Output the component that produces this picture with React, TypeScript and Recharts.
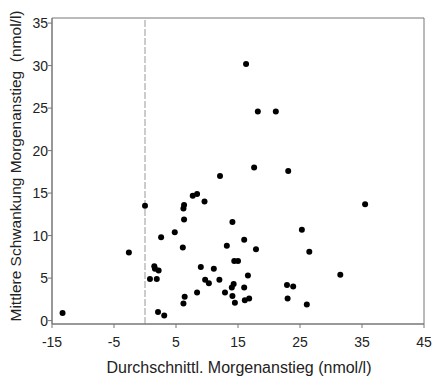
import React from 'react';
import { ScatterChart, Scatter, XAxis, YAxis, ReferenceLine, ReferenceArea, Label } from 'recharts';

// mean morning rise (x) vs. mean fluctuation of morning rise (y), nmol/l
const meanRise = [
  -13.3, -2.6, 0, 0.8, 1.9, 1.5, 1.6, 2.2, 2.1, 3.1, 2.6, 4.8, 6.1, 6.3,
  6.2, 6.3, 7.7, 8.4, 9.6, 12.1, 6.4, 6.2, 8.4, 9.0, 9.7, 10.3, 11.1, 12.0,
  12.9, 13.2, 14.1, 14.4, 15.0, 14.0, 14.3, 14.1, 14.5, 16.0, 16.6, 16.0, 16.1, 16.8,
  17.9, 17.6, 16.3, 18.2, 21.1, 23.1, 22.9, 23.9, 23.0, 25.3, 26.5, 26.1, 31.5, 35.5,
];
const fluctuation = [
  0.9, 8.0, 13.5, 4.9, 4.9, 6.4, 6.1, 5.9, 1.0, 0.6, 9.8, 10.4, 8.6, 11.9,
  13.2, 13.6, 14.7, 14.9, 14.0, 17.0, 2.8, 2.0, 3.3, 6.3, 4.8, 4.4, 6.1, 4.8,
  3.3, 8.8, 11.6, 7.0, 7.0, 3.9, 4.3, 2.9, 2.1, 9.5, 5.3, 3.9, 2.4, 2.6,
  8.4, 18.0, 30.2, 24.6, 24.6, 17.6, 4.2, 4.0, 2.6, 10.7, 8.1, 1.9, 5.4, 13.7,
];

const xTicks = [-15, -5, 5, 15, 25, 35, 45];
const yTicks = [0, 5, 10, 15, 20, 25, 30, 35];

const points = meanRise.map((x, i) => ({ x, y: fluctuation[i] }));

const font = '"Liberation Sans", Arial, sans-serif';
const tickStyle = { fontSize: 14, fill: '#222', fontFamily: font };

const Dot = (props: any) => <circle cx={props.cx} cy={props.cy} r={3} fill="#000" />;

export default function App() {
  return (
    <div style={{ position: 'absolute', left: 0, top: 0, background: '#fff' }}>
      <ScatterChart width={433} height={378} margin={{ top: 18, right: 9, bottom: 0, left: 0 }}>
        <ReferenceArea x1={-15} x2={45} y1={-0.4} y2={35.6} fill="none" stroke="#777" strokeWidth={1} ifOverflow="visible" />
        <XAxis
          type="number"
          dataKey="x"
          domain={[-15, 45]}
          ticks={xTicks}
          allowDataOverflow
          height={54}
          tickSize={4}
          tickMargin={9}
          stroke="#777"
          tick={tickStyle}
        >
          <Label
            content={() => (
              <text x={239} y={373} textAnchor="middle" fontSize={16} fill="#222" fontFamily={font}>
                Durchschnittl. Morgenanstieg (nmol/l)
              </text>
            )}
          />
        </XAxis>
        <YAxis
          type="number"
          dataKey="y"
          domain={[-0.4, 35.6]}
          ticks={yTicks}
          allowDataOverflow
          width={52}
          tickSize={4}
          tickMargin={0}
          stroke="#777"
          tick={tickStyle}
        >
          <Label
            content={() => (
              <text
                transform="translate(21,166) rotate(-90)"
                textAnchor="middle"
                fontSize={15.5}
                fill="#222"
                fontFamily={font}
                style={{ whiteSpace: 'pre' }}
              >
                Mittlere Schwankung Morgenanstieg  (nmol/l)
              </text>
            )}
          />
        </YAxis>
        <ReferenceLine x={0} stroke="#999" strokeWidth={1} strokeDasharray="7 2" />
        <Scatter data={points} shape={<Dot />} isAnimationActive={false} />
      </ScatterChart>
    </div>
  );
}
